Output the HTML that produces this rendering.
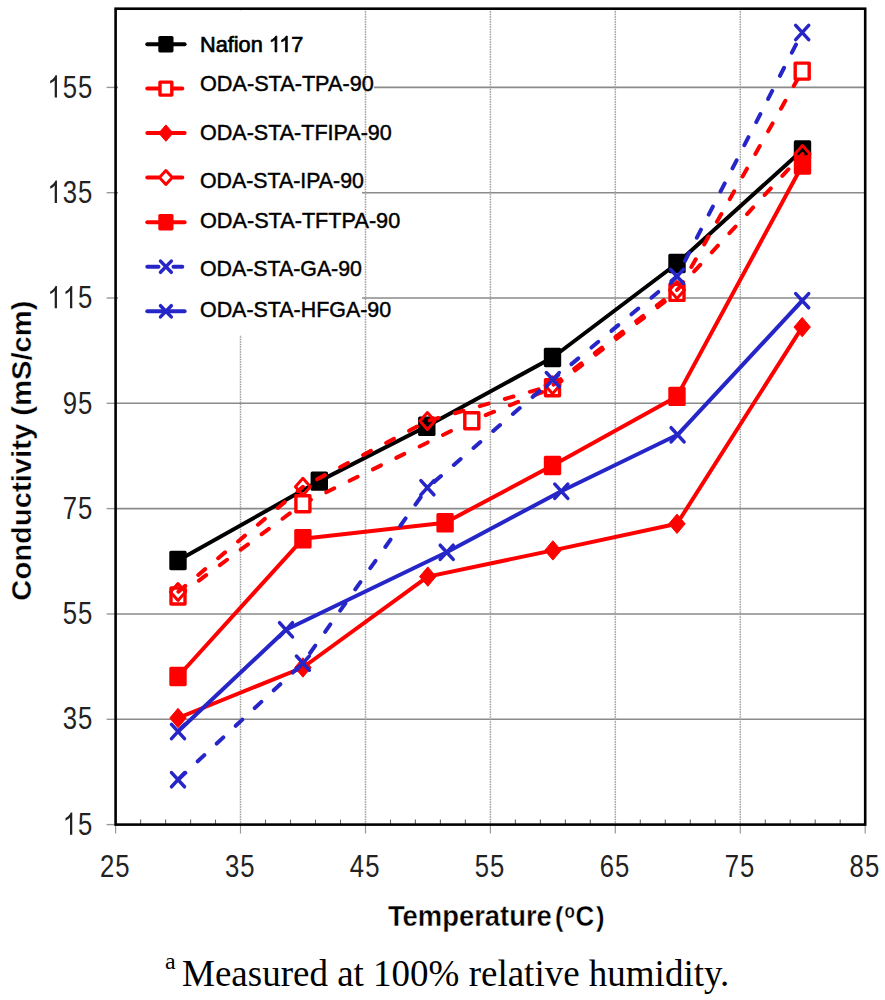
<!DOCTYPE html>
<html><head><meta charset="utf-8"><style>
html,body{margin:0;padding:0;background:#fff;}
svg{display:block;}
text{font-family:"Liberation Sans", sans-serif;}
.serif{font-family:"Liberation Serif", serif;}
</style></head><body>
<svg width="885" height="1000" viewBox="0 0 885 1000">
<rect width="885" height="1000" fill="#fff"/>
<line x1="115.6" y1="719.3" x2="865.2" y2="719.3" stroke="#8a8a8a" stroke-width="1.6"/>
<line x1="115.6" y1="614.0" x2="865.2" y2="614.0" stroke="#8a8a8a" stroke-width="1.6"/>
<line x1="115.6" y1="508.6" x2="865.2" y2="508.6" stroke="#8a8a8a" stroke-width="1.6"/>
<line x1="115.6" y1="403.3" x2="865.2" y2="403.3" stroke="#8a8a8a" stroke-width="1.6"/>
<line x1="115.6" y1="298.0" x2="865.2" y2="298.0" stroke="#8a8a8a" stroke-width="1.6"/>
<line x1="115.6" y1="192.7" x2="865.2" y2="192.7" stroke="#8a8a8a" stroke-width="1.6"/>
<line x1="115.6" y1="87.4" x2="865.2" y2="87.4" stroke="#8a8a8a" stroke-width="1.6"/>
<line x1="240.5" y1="8.7" x2="240.5" y2="824.6" stroke="#9c9c9c" stroke-width="1.5" stroke-dasharray="1.6 0.9"/>
<line x1="490.4" y1="8.7" x2="490.4" y2="824.6" stroke="#9c9c9c" stroke-width="1.5" stroke-dasharray="1.6 0.9"/>
<line x1="615.3" y1="8.7" x2="615.3" y2="824.6" stroke="#9c9c9c" stroke-width="1.5" stroke-dasharray="1.6 0.9"/>
<line x1="740.3" y1="8.7" x2="740.3" y2="824.6" stroke="#9c9c9c" stroke-width="1.5" stroke-dasharray="1.6 0.9"/>
<rect x="118" y="11" width="244" height="324" fill="#fff"/>
<rect x="360" y="76" width="14" height="15" fill="#fff"/>
<line x1="365.5" y1="8.7" x2="365.5" y2="824.6" stroke="#9c9c9c" stroke-width="1.5" stroke-dasharray="1.6 0.9"/>
<line x1="140.6" y1="819.6" x2="140.6" y2="824.6" stroke="#666" stroke-width="1.1"/>
<line x1="165.6" y1="819.6" x2="165.6" y2="824.6" stroke="#666" stroke-width="1.1"/>
<line x1="190.6" y1="819.6" x2="190.6" y2="824.6" stroke="#666" stroke-width="1.1"/>
<line x1="215.5" y1="819.6" x2="215.5" y2="824.6" stroke="#666" stroke-width="1.1"/>
<line x1="265.5" y1="819.6" x2="265.5" y2="824.6" stroke="#666" stroke-width="1.1"/>
<line x1="290.5" y1="819.6" x2="290.5" y2="824.6" stroke="#666" stroke-width="1.1"/>
<line x1="315.5" y1="819.6" x2="315.5" y2="824.6" stroke="#666" stroke-width="1.1"/>
<line x1="340.5" y1="819.6" x2="340.5" y2="824.6" stroke="#666" stroke-width="1.1"/>
<line x1="390.5" y1="819.6" x2="390.5" y2="824.6" stroke="#666" stroke-width="1.1"/>
<line x1="415.4" y1="819.6" x2="415.4" y2="824.6" stroke="#666" stroke-width="1.1"/>
<line x1="440.4" y1="819.6" x2="440.4" y2="824.6" stroke="#666" stroke-width="1.1"/>
<line x1="465.4" y1="819.6" x2="465.4" y2="824.6" stroke="#666" stroke-width="1.1"/>
<line x1="515.4" y1="819.6" x2="515.4" y2="824.6" stroke="#666" stroke-width="1.1"/>
<line x1="540.4" y1="819.6" x2="540.4" y2="824.6" stroke="#666" stroke-width="1.1"/>
<line x1="565.4" y1="819.6" x2="565.4" y2="824.6" stroke="#666" stroke-width="1.1"/>
<line x1="590.3" y1="819.6" x2="590.3" y2="824.6" stroke="#666" stroke-width="1.1"/>
<line x1="640.3" y1="819.6" x2="640.3" y2="824.6" stroke="#666" stroke-width="1.1"/>
<line x1="665.3" y1="819.6" x2="665.3" y2="824.6" stroke="#666" stroke-width="1.1"/>
<line x1="690.3" y1="819.6" x2="690.3" y2="824.6" stroke="#666" stroke-width="1.1"/>
<line x1="715.3" y1="819.6" x2="715.3" y2="824.6" stroke="#666" stroke-width="1.1"/>
<line x1="765.3" y1="819.6" x2="765.3" y2="824.6" stroke="#666" stroke-width="1.1"/>
<line x1="790.2" y1="819.6" x2="790.2" y2="824.6" stroke="#666" stroke-width="1.1"/>
<line x1="815.2" y1="819.6" x2="815.2" y2="824.6" stroke="#666" stroke-width="1.1"/>
<line x1="840.2" y1="819.6" x2="840.2" y2="824.6" stroke="#666" stroke-width="1.1"/>
<line x1="115.6" y1="824.6" x2="115.6" y2="833.6" stroke="#999" stroke-width="1.2"/>
<line x1="240.5" y1="824.6" x2="240.5" y2="833.6" stroke="#999" stroke-width="1.2"/>
<line x1="365.5" y1="824.6" x2="365.5" y2="833.6" stroke="#999" stroke-width="1.2"/>
<line x1="490.4" y1="824.6" x2="490.4" y2="833.6" stroke="#999" stroke-width="1.2"/>
<line x1="615.3" y1="824.6" x2="615.3" y2="833.6" stroke="#999" stroke-width="1.2"/>
<line x1="740.3" y1="824.6" x2="740.3" y2="833.6" stroke="#999" stroke-width="1.2"/>
<line x1="865.2" y1="824.6" x2="865.2" y2="833.6" stroke="#999" stroke-width="1.2"/>
<line x1="106.6" y1="824.6" x2="115.6" y2="824.6" stroke="#999" stroke-width="1.4"/>
<line x1="106.6" y1="719.3" x2="115.6" y2="719.3" stroke="#999" stroke-width="1.4"/>
<line x1="106.6" y1="614.0" x2="115.6" y2="614.0" stroke="#999" stroke-width="1.4"/>
<line x1="106.6" y1="508.6" x2="115.6" y2="508.6" stroke="#999" stroke-width="1.4"/>
<line x1="106.6" y1="403.3" x2="115.6" y2="403.3" stroke="#999" stroke-width="1.4"/>
<line x1="106.6" y1="298.0" x2="115.6" y2="298.0" stroke="#999" stroke-width="1.4"/>
<line x1="106.6" y1="192.7" x2="115.6" y2="192.7" stroke="#999" stroke-width="1.4"/>
<line x1="106.6" y1="87.4" x2="115.6" y2="87.4" stroke="#999" stroke-width="1.4"/>
<path d="M178.0,560.5 L319.3,481.1 L426.8,426.3 L552.5,357.5 L677.0,263.5 L802.5,150.0" fill="none" stroke="#000000" stroke-width="4.0" stroke-linejoin="round"/>
<rect x="169.3" y="550.8" width="17.4" height="19.4" rx="1.6" fill="#000000"/>
<rect x="310.6" y="471.4" width="17.4" height="19.4" rx="1.6" fill="#000000"/>
<rect x="418.1" y="416.6" width="17.4" height="19.4" rx="1.6" fill="#000000"/>
<rect x="543.8" y="347.8" width="17.4" height="19.4" rx="1.6" fill="#000000"/>
<rect x="668.3" y="253.8" width="17.4" height="19.4" rx="1.6" fill="#000000"/>
<rect x="793.8" y="140.3" width="17.4" height="19.4" rx="1.6" fill="#000000"/>
<path d="M178.0,596.0 L302.9,503.7" fill="none" stroke="#ff0000" stroke-width="4.0" stroke-linecap="round" stroke-dasharray="9.0 17.0" stroke-dashoffset="0.0"/>
<path d="M302.9,503.7 L471.8,420.8" fill="none" stroke="#ff0000" stroke-width="4.0" stroke-linecap="round" stroke-dasharray="9.0 17.0" stroke-dashoffset="0.0"/>
<path d="M471.8,420.8 L552.5,387.8" fill="none" stroke="#ff0000" stroke-width="4.0" stroke-linecap="round" stroke-dasharray="9.0 17.0" stroke-dashoffset="11.0"/>
<path d="M552.5,387.8 L677.0,292.4" fill="none" stroke="#ff0000" stroke-width="4.0" stroke-linecap="round" stroke-dasharray="9.0 17.0" stroke-dashoffset="23.5"/>
<path d="M677.0,292.4 L802.2,71.1" fill="none" stroke="#ff0000" stroke-width="4.0" stroke-linecap="round" stroke-dasharray="9.0 17.0" stroke-dashoffset="22.9"/>
<rect x="171.0" y="588.0" width="14.0" height="16.0" fill="#fff" stroke="#ff0000" stroke-width="3.4" stroke-linejoin="round"/>
<rect x="295.9" y="495.7" width="14.0" height="16.0" fill="#fff" stroke="#ff0000" stroke-width="3.4" stroke-linejoin="round"/>
<rect x="464.8" y="412.8" width="14.0" height="16.0" fill="#fff" stroke="#ff0000" stroke-width="3.4" stroke-linejoin="round"/>
<rect x="545.5" y="379.8" width="14.0" height="16.0" fill="#fff" stroke="#ff0000" stroke-width="3.4" stroke-linejoin="round"/>
<rect x="670.0" y="284.4" width="14.0" height="16.0" fill="#fff" stroke="#ff0000" stroke-width="3.4" stroke-linejoin="round"/>
<rect x="795.2" y="63.1" width="14.0" height="16.0" fill="#fff" stroke="#ff0000" stroke-width="3.4" stroke-linejoin="round"/>
<path d="M178.0,718.0 L302.9,667.5 L427.8,576.6 L552.9,550.4 L677.0,523.8 L802.2,327.1" fill="none" stroke="#ff0000" stroke-width="4.0" stroke-linejoin="round"/>
<path d="M178.0,708.3 L186.2,718.0 L178.0,727.7 L169.8,718.0 Z" fill="#ff0000" stroke="#ff0000" stroke-width="1" stroke-linejoin="round"/>
<path d="M302.9,657.8 L311.1,667.5 L302.9,677.2 L294.7,667.5 Z" fill="#ff0000" stroke="#ff0000" stroke-width="1" stroke-linejoin="round"/>
<path d="M427.8,566.9 L436.0,576.6 L427.8,586.3 L419.6,576.6 Z" fill="#ff0000" stroke="#ff0000" stroke-width="1" stroke-linejoin="round"/>
<path d="M552.9,540.7 L561.1,550.4 L552.9,560.1 L544.7,550.4 Z" fill="#ff0000" stroke="#ff0000" stroke-width="1" stroke-linejoin="round"/>
<path d="M677.0,514.1 L685.2,523.8 L677.0,533.5 L668.8,523.8 Z" fill="#ff0000" stroke="#ff0000" stroke-width="1" stroke-linejoin="round"/>
<path d="M802.2,317.4 L810.4,327.1 L802.2,336.8 L794.0,327.1 Z" fill="#ff0000" stroke="#ff0000" stroke-width="1" stroke-linejoin="round"/>
<path d="M178.0,592.0 L302.9,486.8" fill="none" stroke="#ff0000" stroke-width="4.0" stroke-linecap="round" stroke-dasharray="9.0 17.0" stroke-dashoffset="25.5"/>
<path d="M302.9,486.8 L427.4,421.1" fill="none" stroke="#ff0000" stroke-width="4.0" stroke-linecap="round" stroke-dasharray="9.0 17.0" stroke-dashoffset="10.0"/>
<path d="M427.4,421.1 L552.5,385.3" fill="none" stroke="#ff0000" stroke-width="4.0" stroke-linecap="round" stroke-dasharray="9.0 17.0" stroke-dashoffset="23.5"/>
<path d="M552.5,385.3 L677.0,290.0" fill="none" stroke="#ff0000" stroke-width="4.0" stroke-linecap="round" stroke-dasharray="9.0 17.0" stroke-dashoffset="24.8"/>
<path d="M677.0,290.0 L802.5,154.0" fill="none" stroke="#ff0000" stroke-width="4.0" stroke-linecap="round" stroke-dasharray="9.0 17.0" stroke-dashoffset="0.7"/>
<path d="M178.0,583.5 L185.5,592.0 L178.0,600.5 L170.5,592.0 Z" fill="none" stroke="#ff0000" stroke-width="3" stroke-linejoin="round"/>
<path d="M302.9,478.3 L310.4,486.8 L302.9,495.3 L295.4,486.8 Z" fill="none" stroke="#ff0000" stroke-width="3" stroke-linejoin="round"/>
<path d="M427.4,412.6 L434.9,421.1 L427.4,429.6 L419.9,421.1 Z" fill="none" stroke="#ff0000" stroke-width="3" stroke-linejoin="round"/>
<path d="M552.5,376.8 L560.0,385.3 L552.5,393.8 L545.0,385.3 Z" fill="none" stroke="#ff0000" stroke-width="3" stroke-linejoin="round"/>
<path d="M677.0,281.5 L684.5,290.0 L677.0,298.5 L669.5,290.0 Z" fill="none" stroke="#ff0000" stroke-width="3" stroke-linejoin="round"/>
<path d="M802.5,145.5 L810.0,154.0 L802.5,162.5 L795.0,154.0 Z" fill="none" stroke="#ff0000" stroke-width="3" stroke-linejoin="round"/>
<path d="M178.0,676.5 L302.9,538.8 L445.1,522.8 L552.5,465.5 L677.0,396.4 L802.5,165.0" fill="none" stroke="#ff0000" stroke-width="4.0" stroke-linejoin="round"/>
<rect x="169.3" y="666.8" width="17.4" height="19.4" rx="1.6" fill="#ff0000"/>
<rect x="294.2" y="529.1" width="17.4" height="19.4" rx="1.6" fill="#ff0000"/>
<rect x="436.4" y="513.1" width="17.4" height="19.4" rx="1.6" fill="#ff0000"/>
<rect x="543.8" y="455.8" width="17.4" height="19.4" rx="1.6" fill="#ff0000"/>
<rect x="668.3" y="386.7" width="17.4" height="19.4" rx="1.6" fill="#ff0000"/>
<rect x="793.8" y="155.3" width="17.4" height="19.4" rx="1.6" fill="#ff0000"/>
<path d="M178.0,779.7 L302.9,663.1" fill="none" stroke="#2626c8" stroke-width="4.0" stroke-linecap="round" stroke-dasharray="9.0 17.0" stroke-dashoffset="25.0"/>
<path d="M302.9,663.1 L427.4,487.7" fill="none" stroke="#2626c8" stroke-width="4.0" stroke-linecap="round" stroke-dasharray="9.0 17.0" stroke-dashoffset="13.6"/>
<path d="M427.4,487.7 L552.8,379.6" fill="none" stroke="#2626c8" stroke-width="4.0" stroke-linecap="round" stroke-dasharray="9.0 17.0" stroke-dashoffset="17.1"/>
<path d="M552.8,379.6 L677.0,276.4" fill="none" stroke="#2626c8" stroke-width="4.0" stroke-linecap="round" stroke-dasharray="9.0 17.0" stroke-dashoffset="1.8"/>
<path d="M677.0,276.4 L802.2,32.5" fill="none" stroke="#2626c8" stroke-width="4.0" stroke-linecap="round" stroke-dasharray="9.0 17.0" stroke-dashoffset="8.5"/>
<path d="M171.5,772.6 L184.5,786.8 M171.5,786.8 L184.5,772.6" stroke="#2626c8" stroke-width="3.5" stroke-linecap="round"/>
<path d="M296.4,656.0 L309.4,670.2 M296.4,670.2 L309.4,656.0" stroke="#2626c8" stroke-width="3.5" stroke-linecap="round"/>
<path d="M420.9,480.6 L433.9,494.8 M420.9,494.8 L433.9,480.6" stroke="#2626c8" stroke-width="3.5" stroke-linecap="round"/>
<path d="M546.3,372.5 L559.3,386.7 M546.3,386.7 L559.3,372.5" stroke="#2626c8" stroke-width="3.5" stroke-linecap="round"/>
<path d="M670.5,269.3 L683.5,283.5 M670.5,283.5 L683.5,269.3" stroke="#2626c8" stroke-width="3.5" stroke-linecap="round"/>
<path d="M795.7,25.4 L808.7,39.6 M795.7,39.6 L808.7,25.4" stroke="#2626c8" stroke-width="3.5" stroke-linecap="round"/>
<path d="M178.0,731.5 L286.0,629.8 L446.7,552.3 L561.2,491.2 L677.6,434.8 L802.2,300.7" fill="none" stroke="#2626c8" stroke-width="4.0" stroke-linejoin="round"/>
<path d="M171.5,724.4 L184.5,738.6 M171.5,738.6 L184.5,724.4" stroke="#2626c8" stroke-width="3.5" stroke-linecap="round"/>
<path d="M279.5,622.7 L292.5,636.9 M279.5,636.9 L292.5,622.7" stroke="#2626c8" stroke-width="3.5" stroke-linecap="round"/>
<path d="M440.2,545.2 L453.2,559.4 M440.2,559.4 L453.2,545.2" stroke="#2626c8" stroke-width="3.5" stroke-linecap="round"/>
<path d="M554.8,484.1 L567.8,498.4 M554.8,498.4 L567.8,484.1" stroke="#2626c8" stroke-width="3.5" stroke-linecap="round"/>
<path d="M671.1,427.7 L684.1,441.9 M671.1,441.9 L684.1,427.7" stroke="#2626c8" stroke-width="3.5" stroke-linecap="round"/>
<path d="M795.7,293.6 L808.7,307.8 M795.7,307.8 L808.7,293.6" stroke="#2626c8" stroke-width="3.5" stroke-linecap="round"/>
<rect x="115.6" y="8.7" width="749.6" height="815.9" fill="none" stroke="#000" stroke-width="2.6"/>
<line x1="147.3" y1="44.2" x2="184.6" y2="44.2" stroke="#000000" stroke-width="4.0" stroke-linecap="round"/>
<rect x="158.3" y="36.0" width="15.2" height="16.4" rx="1.6" fill="#000000"/>
<text transform="translate(200,51.9) scale(0.987,1)" font-size="22" fill="#000" stroke="#000" stroke-width="0.7">Nafion</text>
<path transform="translate(268.79,51.90) scale(0.01060,-0.01074)" d="M763 0L583 0L583 1147Q518 1085 412.5 1023Q307 961 223 930L223 1104Q374 1175 487 1276Q600 1377 647 1472L763 1472Z" fill="#000" stroke="#000" stroke-width="65.2"/>
<path transform="translate(279.26,51.90) scale(0.01060,-0.01074)" d="M763 0L583 0L583 1147Q518 1085 412.5 1023Q307 961 223 930L223 1104Q374 1175 487 1276Q600 1377 647 1472L763 1472Z" fill="#000" stroke="#000" stroke-width="65.2"/>
<text transform="translate(291.30,51.9) scale(0.987,1)" font-size="22" fill="#000" stroke="#000" stroke-width="0.7">7</text>
<line x1="147.3" y1="88.6" x2="158.5" y2="88.6" stroke="#ff0000" stroke-width="4.0" stroke-linecap="round"/>
<line x1="173.5" y1="88.6" x2="182.3" y2="88.6" stroke="#ff0000" stroke-width="4.0" stroke-linecap="round"/>
<rect x="160.0" y="82.1" width="11.8" height="13.0" fill="#fff" stroke="#ff0000" stroke-width="3.4" stroke-linejoin="round"/>
<text transform="translate(200,90.8) scale(0.985,1)" font-size="22" fill="#000" stroke="#000" stroke-width="0.45">ODA-STA-TPA-90</text>
<line x1="147.3" y1="133.1" x2="184.6" y2="133.1" stroke="#ff0000" stroke-width="4.0" stroke-linecap="round"/>
<path d="M165.9,124.9 L173.0,133.1 L165.9,141.3 L158.8,133.1 Z" fill="#ff0000" stroke="#ff0000" stroke-width="1" stroke-linejoin="round"/>
<text transform="translate(200,139.8) scale(0.979,1)" font-size="22" fill="#000" stroke="#000" stroke-width="0.45">ODA-STA-TFIPA-90</text>
<line x1="147.3" y1="177.5" x2="158.5" y2="177.5" stroke="#ff0000" stroke-width="4.0" stroke-linecap="round"/>
<line x1="173.5" y1="177.5" x2="182.3" y2="177.5" stroke="#ff0000" stroke-width="4.0" stroke-linecap="round"/>
<path d="M165.9,170.5 L172.3,177.5 L165.9,184.5 L159.5,177.5 Z" fill="#fff" stroke="#ff0000" stroke-width="3" stroke-linejoin="round"/>
<text transform="translate(200,188.2) scale(0.97,1)" font-size="22" fill="#000" stroke="#000" stroke-width="0.45">ODA-STA-IPA-90</text>
<line x1="147.3" y1="222.2" x2="184.6" y2="222.2" stroke="#ff0000" stroke-width="4.0" stroke-linecap="round"/>
<rect x="158.3" y="214.0" width="15.2" height="16.4" rx="1.6" fill="#ff0000"/>
<text transform="translate(200,228.2) scale(0.985,1)" font-size="22" fill="#000" stroke="#000" stroke-width="0.45">ODA-STA-TFTPA-90</text>
<line x1="147.3" y1="266.7" x2="158.5" y2="266.7" stroke="#2626c8" stroke-width="4.0" stroke-linecap="round"/>
<line x1="173.5" y1="266.7" x2="182.3" y2="266.7" stroke="#2626c8" stroke-width="4.0" stroke-linecap="round"/>
<path d="M160.5,261.1 L171.3,272.3 M160.5,272.3 L171.3,261.1" stroke="#2626c8" stroke-width="3.5" stroke-linecap="round"/>
<text transform="translate(200,276.2) scale(0.97,1)" font-size="22" fill="#000" stroke="#000" stroke-width="0.45">ODA-STA-GA-90</text>
<line x1="147.3" y1="311.3" x2="184.6" y2="311.3" stroke="#2626c8" stroke-width="4.0" stroke-linecap="round"/>
<path d="M160.5,305.7 L171.3,316.9 M160.5,316.9 L171.3,305.7" stroke="#2626c8" stroke-width="3.5" stroke-linecap="round"/>
<text transform="translate(200,316.9) scale(0.974,1)" font-size="22" fill="#000" stroke="#000" stroke-width="0.45">ODA-STA-HFGA-90</text>
<path transform="translate(62.68,834.80) scale(0.01256,-0.01514)" d="M763 0L583 0L583 1147Q518 1085 412.5 1023Q307 961 223 930L223 1104Q374 1175 487 1276Q600 1377 647 1472L763 1472Z" fill="#222"/><text transform="translate(77.98,834.80) scale(0.83,1)" font-size="31" fill="#222">5</text>
<text transform="translate(62.68,729.48) scale(0.83,1)" font-size="31" fill="#222">3</text><text transform="translate(77.98,729.48) scale(0.83,1)" font-size="31" fill="#222">5</text>
<text transform="translate(62.68,624.16) scale(0.83,1)" font-size="31" fill="#222">5</text><text transform="translate(77.98,624.16) scale(0.83,1)" font-size="31" fill="#222">5</text>
<text transform="translate(62.68,518.84) scale(0.83,1)" font-size="31" fill="#222">7</text><text transform="translate(77.98,518.84) scale(0.83,1)" font-size="31" fill="#222">5</text>
<text transform="translate(62.68,413.52) scale(0.83,1)" font-size="31" fill="#222">9</text><text transform="translate(77.98,413.52) scale(0.83,1)" font-size="31" fill="#222">5</text>
<path transform="translate(47.38,308.20) scale(0.01256,-0.01514)" d="M763 0L583 0L583 1147Q518 1085 412.5 1023Q307 961 223 930L223 1104Q374 1175 487 1276Q600 1377 647 1472L763 1472Z" fill="#222"/><path transform="translate(62.68,308.20) scale(0.01256,-0.01514)" d="M763 0L583 0L583 1147Q518 1085 412.5 1023Q307 961 223 930L223 1104Q374 1175 487 1276Q600 1377 647 1472L763 1472Z" fill="#222"/><text transform="translate(77.98,308.20) scale(0.83,1)" font-size="31" fill="#222">5</text>
<path transform="translate(47.38,202.88) scale(0.01256,-0.01514)" d="M763 0L583 0L583 1147Q518 1085 412.5 1023Q307 961 223 930L223 1104Q374 1175 487 1276Q600 1377 647 1472L763 1472Z" fill="#222"/><text transform="translate(62.68,202.88) scale(0.83,1)" font-size="31" fill="#222">3</text><text transform="translate(77.98,202.88) scale(0.83,1)" font-size="31" fill="#222">5</text>
<path transform="translate(47.38,97.56) scale(0.01256,-0.01514)" d="M763 0L583 0L583 1147Q518 1085 412.5 1023Q307 961 223 930L223 1104Q374 1175 487 1276Q600 1377 647 1472L763 1472Z" fill="#222"/><text transform="translate(62.68,97.56) scale(0.83,1)" font-size="31" fill="#222">5</text><text transform="translate(77.98,97.56) scale(0.83,1)" font-size="31" fill="#222">5</text>
<text transform="translate(100.00,876.60) scale(0.83,1)" font-size="31" fill="#222">2</text><text transform="translate(115.30,876.60) scale(0.83,1)" font-size="31" fill="#222">5</text>
<text transform="translate(224.93,876.60) scale(0.83,1)" font-size="31" fill="#222">3</text><text transform="translate(240.23,876.60) scale(0.83,1)" font-size="31" fill="#222">5</text>
<text transform="translate(349.86,876.60) scale(0.83,1)" font-size="31" fill="#222">4</text><text transform="translate(365.16,876.60) scale(0.83,1)" font-size="31" fill="#222">5</text>
<text transform="translate(474.80,876.60) scale(0.83,1)" font-size="31" fill="#222">5</text><text transform="translate(490.10,876.60) scale(0.83,1)" font-size="31" fill="#222">5</text>
<text transform="translate(599.73,876.60) scale(0.83,1)" font-size="31" fill="#222">6</text><text transform="translate(615.03,876.60) scale(0.83,1)" font-size="31" fill="#222">5</text>
<text transform="translate(724.66,876.60) scale(0.83,1)" font-size="31" fill="#222">7</text><text transform="translate(739.96,876.60) scale(0.83,1)" font-size="31" fill="#222">5</text>
<text transform="translate(849.60,876.60) scale(0.83,1)" font-size="31" fill="#222">8</text><text transform="translate(864.90,876.60) scale(0.83,1)" font-size="31" fill="#222">5</text>
<text transform="translate(31.4,450.6) rotate(-90) scale(0.99,0.93)" font-size="29.5" font-weight="bold" text-anchor="middle" fill="#000" stroke="#fff" stroke-width="0.35">Conductivity (mS/cm)</text>
<text transform="translate(387.9,926) scale(0.935,1)" font-size="29.3" font-weight="bold" fill="#000" stroke="#fff" stroke-width="0.35">Temperature</text>
<text transform="translate(555,926) scale(0.87,0.94)" font-size="29.3" font-weight="bold" fill="#000" stroke="#fff" stroke-width="0.35">(</text>
<text transform="translate(564.6,918) scale(0.85,1)" font-size="20" font-weight="bold" fill="#000" stroke="#fff" stroke-width="0.35">o</text>
<text transform="translate(575.4,926) scale(0.867,1)" font-size="30" font-weight="bold" fill="#000" stroke="#fff" stroke-width="0.35">C</text>
<text transform="translate(595.9,926) scale(0.87,0.94)" font-size="29.3" font-weight="bold" fill="#000" stroke="#fff" stroke-width="0.35">)</text>
<text class="serif" x="165" y="968.5" font-size="24">a</text>
<text class="serif" x="182" y="985.6" font-size="37">Measured at 100% relative humidity.</text>
</svg></body></html>
